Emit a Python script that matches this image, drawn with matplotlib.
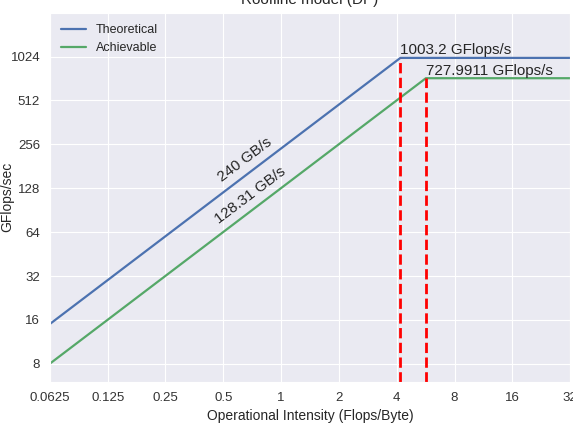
import matplotlib
matplotlib.use("Agg")
import matplotlib.pyplot as plt
import seaborn as sns

sns.set_style("darkgrid")
plt.rcParams['font.family'] = ['Liberation Sans', 'DejaVu Sans']

# roofline data
intensity = [0.0625, 0.125, 0.25, 0.5, 1, 2, 4, 8, 16, 32]
peak_theo = 1003.2     # GFlops/s
peak_achv = 727.9911   # GFlops/s
bw_theo = 240.0        # GB/s
bw_achv = 128.31       # GB/s
yticks = [8, 16, 32, 64, 128, 256, 512, 1024]

color_blue = '#4C72B0'
color_green = '#55A868'

ridge_theo = peak_theo / bw_theo
ridge_achv = peak_achv / bw_achv

x_theo = [intensity[0], ridge_theo, intensity[-1]]
y_theo = [intensity[0] * bw_theo, peak_theo, peak_theo]
x_achv = [intensity[0], ridge_achv, intensity[-1]]
y_achv = [intensity[0] * bw_achv, peak_achv, peak_achv]

fig = plt.figure(figsize=(5.73, 4.24), dpi=100)
ax = fig.add_axes([0.087, 0.099, 0.908, 0.871])

ax.plot(x_theo, y_theo, color=color_blue, lw=1.6, label='Theoretical')
ax.plot(x_achv, y_achv, color=color_green, lw=1.6, label='Achievable')

ymin = 6.0
ax.vlines(ridge_theo, ymin, peak_theo, colors='#FF0000', linestyles='--', lw=2)
ax.vlines(ridge_achv, ymin, peak_achv, colors='#FF0000', linestyles='--', lw=2)

ax.set_xscale('log', base=2)
ax.set_yscale('log', base=2)
ax.set_xlim(intensity[0], intensity[-1])
ax.set_ylim(ymin, 2048)
ax.set_xticks(intensity)
ax.set_xticklabels([f"{v:g}" for v in intensity])
ax.set_yticks(yticks)
ax.set_yticklabels([str(v) for v in yticks])
ax.minorticks_off()
ax.tick_params(labelsize=9.5, colors='#333333')

ax.text(ridge_theo, peak_theo * 1.01, "1003.2 GFlops/s", fontsize=11,
        ha='left', va='bottom', color='#262626')
ax.text(ridge_achv, peak_achv * 1.01, "727.9911 GFlops/s", fontsize=11,
        ha='left', va='bottom', color='#262626')

ax.text(0.65, 200, "240 GB/s", fontsize=11, rotation=37,
        ha='center', va='center', color='#262626')
ax.text(0.69, 114, "128.31 GB/s", fontsize=11, rotation=37,
        ha='center', va='center', color='#262626')

ax.set_xlabel('Operational Intensity (Flops/Byte)', fontsize=10, color='#262626', labelpad=4)
ax.set_ylabel('GFlops/sec', fontsize=10, color='#262626')
ax.yaxis.set_label_coords(-0.068, 0.5)
ax.set_title('Roofline model (DP)', fontsize=11, color='#262626')
ax.legend(loc='upper left', fontsize=9, frameon=False)

fig.savefig('out.png', dpi=100)
